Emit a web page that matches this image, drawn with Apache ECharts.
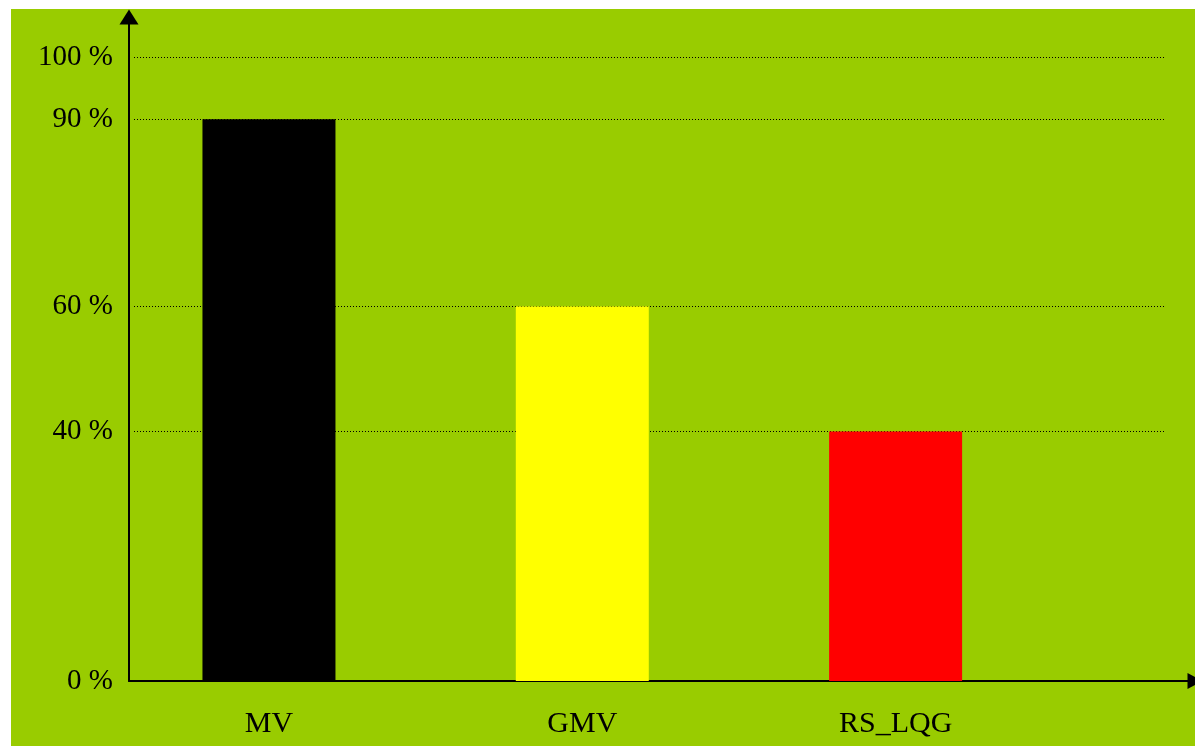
<!DOCTYPE html>
<html>
<head>
<meta charset="utf-8">
<script src="https://cdn.jsdelivr.net/npm/echarts@6/dist/echarts.min.js"></script>
<style>
  html, body { margin: 0; padding: 0; background: #ffffff; }
  #chart { position: absolute; left: 11px; top: 9px; width: 1184px; height: 737px; }
</style>
</head>
<body>
<div id="chart"></div>
<script>
// Methods compared and their shares
const categories = ['MV', 'GMV', 'RS_LQG'];
const shares = [90, 60, 40];
const barColors = ['#000000', '#ffff00', '#ff0000'];
// Ticks shown on the vertical axis
const yTicks = [0, 40, 60, 90, 100];
const gridTicks = [40, 60, 90, 100];

const Y_MAX = 106.4;
const X_MIN = -0.4467;
const X_MAX = 2.9555;
const FONT = '"Liberation Serif", "Times New Roman", serif';

const chart = echarts.init(document.getElementById('chart'));

chart.setOption({
  backgroundColor: '#99cc00',
  animation: false,
  grid: [
    { left: 118, right: -4, top: 8, bottom: 65 },
    { left: 123, right: 29, top: 8, bottom: 65 }
  ],
  xAxis: [
    {
      type: 'value',
      gridIndex: 0,
      min: X_MIN,
      max: X_MAX,
      splitLine: { show: false },
      axisTick: { show: false },
      axisLine: {
        show: true,
        onZero: false,
        symbol: ['none', 'triangle'],
        symbolSize: [16, 15],
        lineStyle: { color: '#000', width: 2 }
      },
      axisLabel: {
        customValues: [0, 1, 2],
        formatter: v => categories[Math.round(v)] || '',
        color: '#000',
        fontFamily: FONT,
        fontSize: 30,
        margin: 28
      }
    },
    {
      type: 'value',
      gridIndex: 1,
      min: 0,
      max: 1,
      show: false
    }
  ],
  yAxis: [
    {
      type: 'value',
      gridIndex: 0,
      min: 0,
      max: Y_MAX,
      splitLine: { show: false },
      axisTick: { show: false, customValues: yTicks },
      axisLine: {
        show: true,
        onZero: false,
        symbol: ['none', 'triangle'],
        symbolSize: [19, 15],
        lineStyle: { color: '#000', width: 2 }
      },
      axisLabel: {
        customValues: yTicks,
        formatter: v => v + ' %',
        color: '#000',
        fontFamily: FONT,
        fontSize: 29,
        margin: 16
      }
    },
    {
      type: 'value',
      gridIndex: 1,
      min: 0,
      max: Y_MAX,
      axisLine: { show: false },
      axisTick: { show: false, customValues: gridTicks },
      axisLabel: { show: false, customValues: gridTicks },
      splitLine: {
        show: true,
        lineStyle: { color: '#000', width: 1, type: [1, 2] }
      }
    }
  ],
  series: [
    {
      type: 'bar',
      xAxisIndex: 0,
      yAxisIndex: 0,
      barWidth: 133,
      z: 3,
      data: shares.map((v, i) => ({
        value: [i, v],
        itemStyle: { color: barColors[i] }
      }))
    }
  ]
});
</script>
</body>
</html>
